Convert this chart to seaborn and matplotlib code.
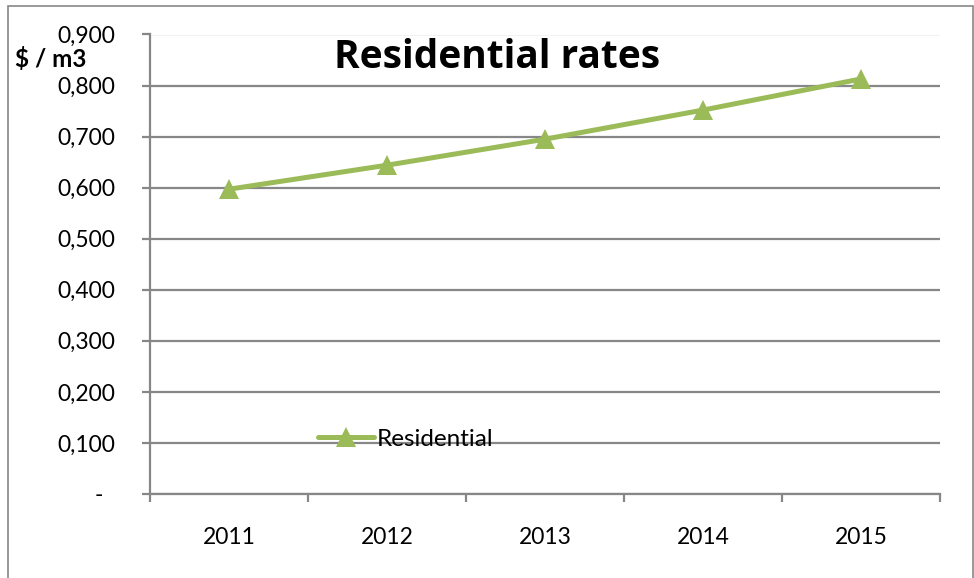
import numpy as np
import pandas as pd
import matplotlib
matplotlib.use("Agg")
import matplotlib.pyplot as plt
from matplotlib.patches import Rectangle
from matplotlib.ticker import FuncFormatter, FixedLocator
import seaborn as sns

# 데이터
years = ["2011", "2012", "2013", "2014", "2015"]
rates = [0.597, 0.644, 0.695, 0.752, 0.813]
series_name = "Residential"

GREEN = "#9BBB59"
GRID = "#878787"
FS = 16.5

sns.set_style("white")
plt.rcParams["font.family"] = ["Lato", "DejaVu Sans"]
plt.rcParams["text.color"] = "black"

df = pd.DataFrame({"pos": np.arange(len(years)), "rate": rates, "serie": series_name})

W, H = 974, 578
fig = plt.figure(figsize=(W / 100, H / 100), dpi=100)
ax = fig.add_axes([150 / W, 1 - 494 / H, (940 - 150) / W, (494 - 34.5) / H])

sns.lineplot(data=df, x="pos", y="rate", hue="serie", palette=[GREEN], ax=ax,
             marker="^", markersize=15, markeredgewidth=0, linewidth=3.6)

ax.set_xlim(-0.5, len(years) - 0.5)
ax.set_ylim(0, 0.9)
ax.set_yticks(np.arange(0, 0.91, 0.1))
ax.yaxis.set_major_formatter(FuncFormatter(
    lambda v, p: "-  " if abs(v) < 1e-9 else f"{v:.3f}".replace(".", ",")))
ax.grid(axis="y", color=GRID, linewidth=1.6)
ax.set_axisbelow(True)

# 카테고리 경계에 눈금, 중앙에 라벨
ax.xaxis.set_major_locator(FixedLocator(np.arange(-0.5, len(years), 1.0)))
ax.xaxis.set_major_formatter(FuncFormatter(lambda v, p: ""))
ax.xaxis.set_minor_locator(FixedLocator(np.arange(len(years))))
ax.set_xticklabels(years, minor=True)
ax.tick_params(axis="x", which="major", direction="out", length=6, width=1.6,
               color=GRID, bottom=True)
ax.tick_params(axis="x", which="minor", length=0, pad=24, labelsize=FS,
               labelcolor="black")
ax.tick_params(axis="y", direction="out", length=6, width=1.6, color=GRID,
               left=True, pad=19, labelsize=FS, labelcolor="black")

for s in ["top", "right"]:
    ax.spines[s].set_visible(False)
for s in ["left", "bottom"]:
    ax.spines[s].set_color(GRID)
    ax.spines[s].set_linewidth(1.6)

ax.set_xlabel("")
ax.set_ylabel("")

ax.legend(loc="center left", bbox_to_anchor=((318 - 150) / 790, (494 - 439) / 459.5),
          frameon=False, fontsize=17.5, handlelength=2.3, handletextpad=0.1,
          borderaxespad=0, borderpad=0, labelcolor="black")

fig.text(497 / W, 1 - 68 / H, "Residential rates", ha="center", va="baseline",
         fontsize=28, fontweight="bold", color="black",
         family=["Open Sans", "DejaVu Sans"])
fig.text(15 / W, 1 - 67 / H, "$ / m3", ha="left", va="baseline",
         fontsize=17.5, fontweight="bold", color="black")

# 차트 영역 테두리
fig.patches.append(Rectangle((8 / W, -0.05), (973 - 8) / W, 1.05 - 6 / H,
                             transform=fig.transFigure, fill=False,
                             edgecolor=GRID, linewidth=1.2))

fig.savefig("out.png", dpi=100, facecolor="white")
